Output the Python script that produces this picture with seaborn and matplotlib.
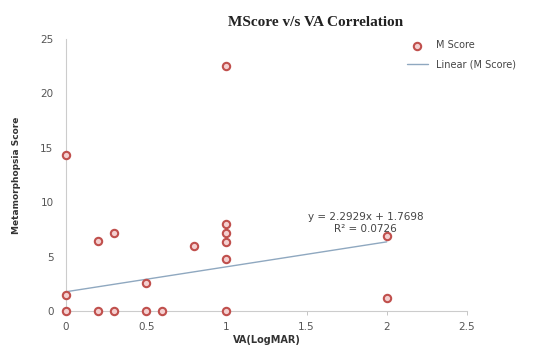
import matplotlib
matplotlib.use("Agg")
import matplotlib.pyplot as plt
import seaborn as sns
import numpy as np
import pandas as pd

va = [0, 0, 0, 0.2, 0.2, 0.3, 0.3, 0.5, 0.5, 0.6, 0.8, 1, 1, 1, 1, 1, 1, 2, 2]
mscore = [14.3, 1.5, 0, 6.4, 0, 7.2, 0, 2.6, 0, 0, 6.0, 22.5, 8.0, 7.2, 6.3, 4.8, 0, 6.9, 1.2]
slope = 2.2929
intercept = 1.7698
r2 = 0.0726
x_ticks = [0, 0.5, 1, 1.5, 2, 2.5]
y_ticks = [0, 5, 10, 15, 20, 25]

sns.set_theme(style="white")
fig = plt.figure(figsize=(5.48, 3.47), dpi=100)
ax = fig.add_axes([0.1204, 0.1037, 0.7316, 0.7839])

df = pd.DataFrame({"VA": va, "M": mscore})
sns.scatterplot(data=df, x="VA", y="M", ax=ax, marker="o", s=28,
                facecolor="#f4d0d0", edgecolor="#c0504d", linewidth=1.5,
                label="M Score", zorder=3, clip_on=False)

xl = np.array([min(va), max(va)])
trend = pd.DataFrame({"x": xl, "y": slope * xl + intercept})
sns.lineplot(data=trend, x="x", y="y", ax=ax, color="#8fa8c0", linewidth=1,
             label="Linear (M Score)", zorder=2)

ax.set_xlim(0, 2.5)
ax.set_ylim(0, 25)
ax.set_xticks(x_ticks)
ax.set_xticklabels([f"{t:g}" for t in x_ticks])
ax.set_yticks(y_ticks)
ax.set_yticklabels([str(t) for t in y_ticks])
ax.tick_params(axis="both", labelsize=7.5, colors="#555555", length=3, width=0.6,
               direction="out", bottom=True, left=False, pad=6)
ax.tick_params(axis="x", colors="#bbbbbb", labelcolor="#555555", pad=5)
for s in ["top", "right"]:
    ax.spines[s].set_visible(False)
for s in ["left", "bottom"]:
    ax.spines[s].set_color("#cccccc")
    ax.spines[s].set_linewidth(0.8)

ax.set_xlabel("VA(LogMAR)", fontsize=7, fontweight="bold", color="#333333", labelpad=2)
ax.set_ylabel("Metamorphopsia Score", fontsize=6.5, fontweight="bold", color="#333333", labelpad=14)
fig.text(0.575, 0.935, "MScore v/s VA Correlation", ha="center", va="center",
         fontsize=11, fontweight="bold", family="Liberation Serif", color="#222222")

ax.text(1.87, 8.1, f"y = {slope}x + {intercept}\nR² = {r2:.4f}",
        ha="center", va="center", fontsize=7.5, color="#444444", linespacing=1.2)

leg = ax.legend(loc="upper left", bbox_to_anchor=(0.84, 1.01), frameon=False,
                fontsize=7, handlelength=2.2, labelspacing=1.0, borderaxespad=0)
for t in leg.get_texts():
    t.set_color("#444444")

fig.savefig("out.png", dpi=100, facecolor="white")
